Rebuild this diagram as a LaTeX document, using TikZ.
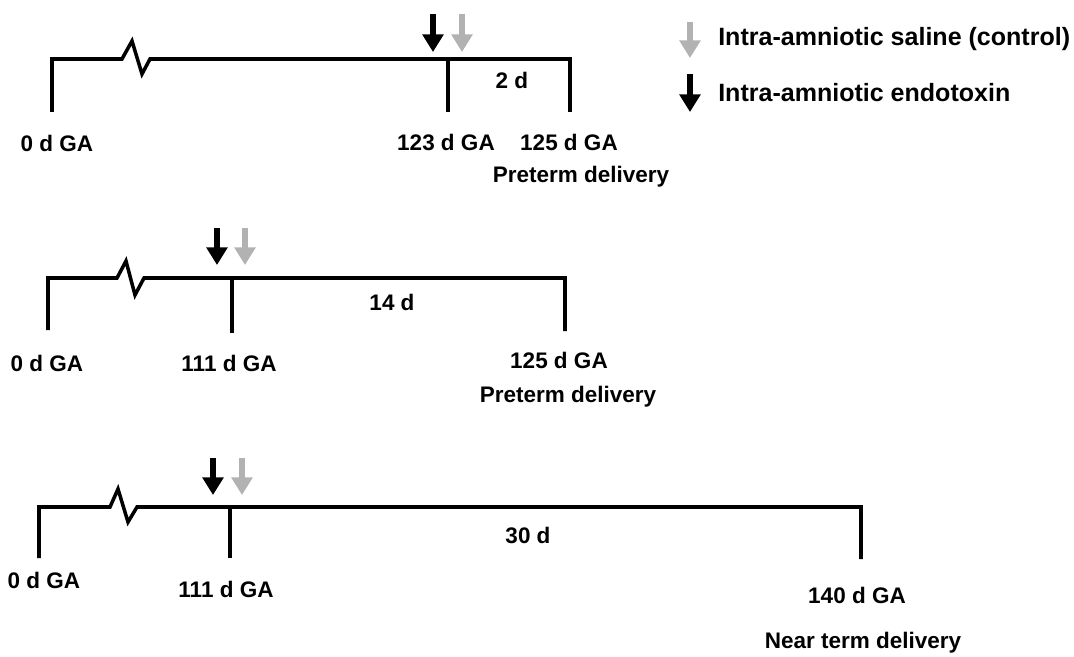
\documentclass[tikz,border=0pt]{standalone}
\usepackage{fontspec}
\setmainfont{Liberation Sans}
\usetikzlibrary{arrows.meta}

\tikzset{
  timeline/.style={line width=2.5pt, line join=miter},
  daylbl/.style={font=\fontsize{16}{18}\selectfont\bfseries, inner sep=0pt},
  legendlbl/.style={font=\fontsize{17.8}{20}\selectfont\bfseries, anchor=west, inner sep=0pt},
  endotoxin/.style={line width=4.2pt, -{Triangle[width=14.5pt,length=12.5pt]}, black},
  saline/.style={endotoxin, black!30},
}

\begin{document}
\begin{tikzpicture}[x=0.025cm, y=-0.025cm]
    \useasboundingbox (0,0) rectangle (1074,657);

    % ===== LEGEND =====
    \coordinate (lgsaltop) at (690,22);
    \coordinate (lgsaltip) at (690,58);
    \draw[saline] (lgsaltop) -- (lgsaltip);
    \node[legendlbl] (lgsal) at (718,39) {Intra-amniotic saline (control)};
    \coordinate (lgendotop) at (690,74);
    \coordinate (lgendotip) at (690,112);
    \draw[endotoxin] (lgendotop) -- (lgendotip);
    \node[legendlbl] (lgendo) at (718,93) {Intra-amniotic endotoxin};

    % ===== 2 d EXPOSURE (top) =====
    \draw[timeline] (52,112) coordinate (a0) |- (122,59) -- (132,41) -- (142,74) -- (150,59)
        -- (570,59) coordinate (a2top) -- (570,112) coordinate (a2);
    \coordinate (a1top) at (448,59);
    \coordinate (a1) at (448,112);
    \draw[timeline] (a1top) -- (a1);

    % injection arrows
    \draw[endotoxin] (433,14) coordinate (a1endo) -- (433,52);
    \draw[saline] (462,14) coordinate (a1sal) -- (462,52);

    \node[daylbl] (a0lbl) at (57,143) {0 d GA};
    \node[daylbl] (a1lbl) at (446,142) {123 d GA};
    \node[daylbl] (a2lbl) at (569,142) {125 d GA};
    \node[daylbl] (a2del) at (581,177) {Preterm delivery};
    \node[daylbl] (adur) at (512,80) {2 d};

    % ===== 14 d EXPOSURE (middle) =====
    \draw[timeline] (48,330) coordinate (b0) |- (117,278) -- (126,261) -- (135,295) -- (144,278)
        -- (565,278) coordinate (b2top) -- (565,331) coordinate (b2);
    \coordinate (b1top) at (232,278);
    \coordinate (b1) at (232,333);
    \draw[timeline] (b1top) -- (b1);

    % injection arrows
    \draw[endotoxin] (217,228) coordinate (b1endo) -- (217,265);
    \draw[saline] (245,228) coordinate (b1sal) -- (245,265);

    \node[daylbl] (b0lbl) at (47,363) {0 d GA};
    \node[daylbl] (b1lbl) at (229,363) {111 d GA};
    \node[daylbl] (b2lbl) at (559,360) {125 d GA};
    \node[daylbl] (b2del) at (568,397) {Preterm delivery};
    \node[daylbl] (bdur) at (392,302) {14 d};

    % ===== 30 d EXPOSURE (bottom) =====
    \draw[timeline] (39,558) coordinate (c0) |- (110,507) -- (118,489) -- (128,522) -- (137,507)
        -- (861,507) coordinate (c2top) -- (861,559) coordinate (c2);
    \coordinate (c1top) at (230,507);
    \coordinate (c1) at (230,558);
    \draw[timeline] (c1top) -- (c1);

    % injection arrows
    \draw[endotoxin] (213,458) coordinate (c1endo) -- (213,495);
    \draw[saline] (242,458) coordinate (c1sal) -- (242,495);

    \node[daylbl] (c0lbl) at (44,580) {0 d GA};
    \node[daylbl] (c1lbl) at (226,589) {111 d GA};
    \node[daylbl] (c2lbl) at (857,595) {140 d GA};
    \node[daylbl] (c2del) at (863,643) {Near term delivery};
    \node[daylbl] (cdur) at (528,535) {30 d};
\end{tikzpicture}
\end{document}
